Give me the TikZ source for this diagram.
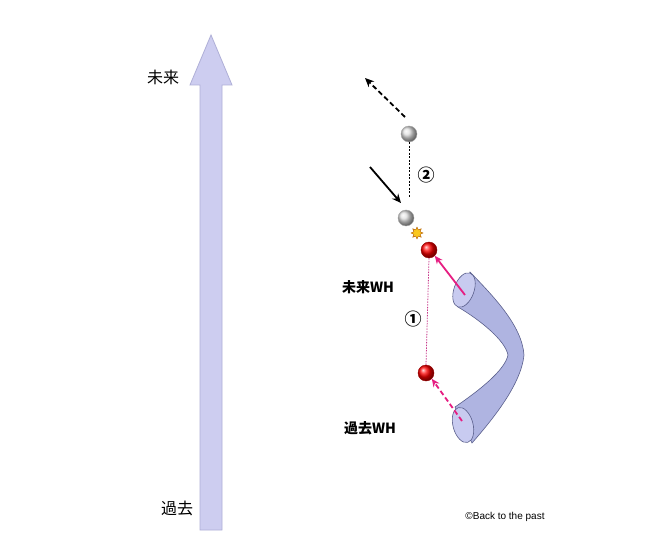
\documentclass[tikz,border=0pt]{standalone}
\usepackage{fontspec}
\setmainfont{Liberation Sans}
\newfontfamily\cjk{Noto Sans CJK JP}
\usetikzlibrary{shapes.geometric,arrows.meta,shadings}
\begin{document}
\begin{tikzpicture}[x=1pt,y=-1pt,
  gball/.style={circle,minimum size=16pt,inner sep=0,draw=gray!70,ball color=gray!25},
  rball/.style={circle,minimum size=16pt,inner sep=0,draw=red!60!black,ball color=red},
  pk/.style={draw={rgb,255:red,230;green,30;blue,130},line width=1.8pt,-{Stealth[length=8pt,width=7pt]}},
  lab/.style={font=\cjk\bfseries\fontsize{14}{16}\selectfont},
  num/.style={font=\cjk\bfseries\fontsize{17}{19}\selectfont},
  tube/.style={fill={rgb,255:red,175;green,180;blue,225},draw={rgb,255:red,90;green,95;blue,140},line width=0.6pt}]
\useasboundingbox (0,0) rectangle (661,556);
\fill[white] (0,0) rectangle (661,556);
% big arrow
\draw[fill={rgb,255:red,205;green,205;blue,240},draw={rgb,255:red,175;green,175;blue,215},line width=0.8pt]
  (200,530) -- (200,85) -- (190,85) -- (211,35) -- (232,85) -- (222,85) -- (222,530) -- cycle;
\node[font=\cjk\fontsize{16}{18}\selectfont] (fut) at (163,77) {未来};
\node[font=\cjk\fontsize{16}{18}\selectfont] (past) at (177,508) {過去};
% tube
\draw[tube] (470,272) .. controls (492,295) and (522,325) .. (524,355)
  .. controls (521,385) and (492,420) .. (472,443)
  -- (455,407) .. controls (480,390) and (505,370) .. (508,355)
  .. controls (505,340) and (480,320) .. (458,307) -- cycle;
\draw[tube,fill={rgb,255:red,200;green,203;blue,240}] (464,290) ellipse [x radius=10,y radius=18,rotate=-20];
\draw[tube,fill={rgb,255:red,200;green,203;blue,240}] (463,425) ellipse [x radius=10,y radius=18,rotate=15];
% balls
\node[gball] (g1) at (409,134) {};
\node[gball] (g2) at (406,218) {};
\node[rball] (r1) at (429,250) {};
\node[rball] (r2) at (426,373) {};
\node[star,star points=8,star point ratio=1.8,minimum size=12pt,inner sep=0,fill={rgb,255:red,250;green,200;blue,30},draw=orange!70!black,line width=0.4pt] (st) at (417,233) {};
% lines
\coordinate (ge) at (409,198);
\draw[dash pattern=on 2pt off 1.5pt,line width=0.5pt] (g1.south) -- (ge);
\draw[dash pattern=on 1.5pt off 1.2pt,line width=0.8pt,draw={rgb,255:red,200;green,60;blue,140}] (r1.south) -- (r2.north);
\node[num] (n2) at (426,175) {②};
\node[num] (n1) at (413,319) {①};
% arrows
\coordinate (a1s) at (405,117); \coordinate (a1e) at (365,78);
\draw[line width=1.8pt,dash pattern=on 5pt off 3pt,-{Stealth[length=9pt,width=8pt]}] (a1s) -- (a1e);
\coordinate (a2s) at (370,167); \coordinate (a2e) at (401,203);
\draw[line width=1.8pt,-{Stealth[length=9pt,width=8pt]}] (a2s) -- (a2e);
\coordinate (p1s) at (465,295);
\draw[pk] (p1s) -- (r1.south east);
\coordinate (p2s) at (462,421);
\draw[pk,dash pattern=on 5pt off 3pt] (p2s) -- (r2.south east);
\node[lab] (fwh) at (368,287) {未来WH};
\node[lab] (pwh) at (370,428) {過去WH};
\node[font=\fontsize{10}{12}\selectfont] (cr) at (505,517) {©Back to the past};
\end{tikzpicture}
\end{document}
